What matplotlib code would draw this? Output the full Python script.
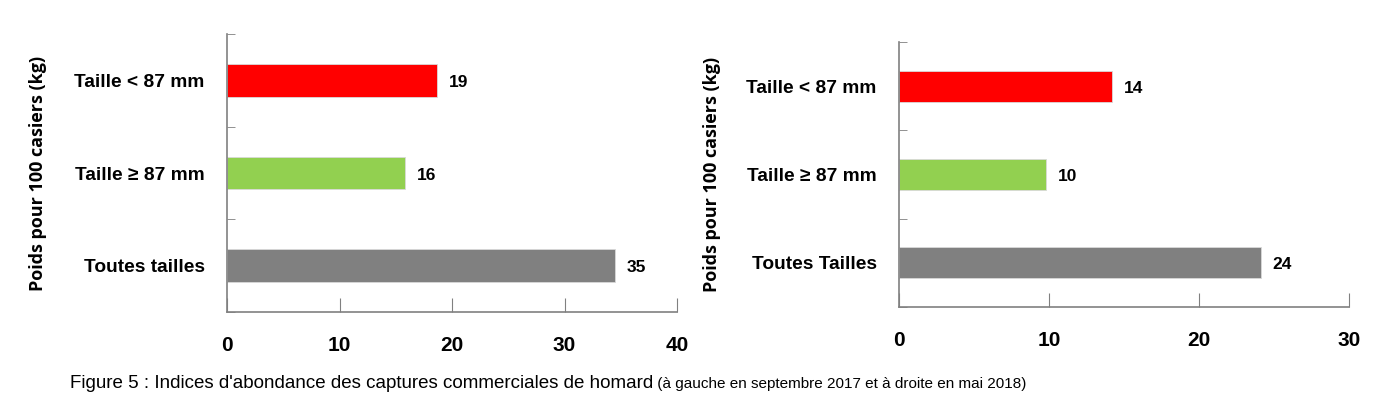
import matplotlib
matplotlib.use('Agg')

import matplotlib.pyplot as plt

categories_2017 = ["Taille < 87 mm", "Taille ≥ 87 mm", "Toutes tailles"]
values_2017 = [18.7, 15.8, 34.5]
labels_2017 = ["19", "16", "35"]

categories_2018 = ["Taille < 87 mm", "Taille ≥ 87 mm", "Toutes Tailles"]
values_2018 = [14.2, 9.8, 24.1]
labels_2018 = ["14", "10", "24"]

colors = ["#FF0000", "#92D050", "#808080"]
ylabel = "Poids pour 100 casiers (kg)"
narrow = ["Liberation Sans", "DejaVu Sans"]

W, H = 1379, 407
fig = plt.figure(figsize=(W / 100, H / 100), dpi=100)


def panel(rect, cats, vals, labs, xmax, xstep, ylab_x):
    l, t, r, b = rect
    ax = fig.add_axes([l / W, 1 - b / H, (r - l) / W, (b - t) / H])
    pos = list(range(len(cats)))
    ax.barh(pos, vals, height=0.35, color=colors, edgecolor="#d9d9d9", linewidth=0.6)
    ax.set_ylim(2.5, -0.5)
    ax.set_xlim(0, xmax)
    ax.set_yticks(pos)
    ax.set_yticklabels(cats, fontfamily=narrow, fontweight="bold", fontsize=13.8)
    ax.set_yticks([-0.5, 0.5, 1.5, 2.5], minor=True)
    ax.tick_params(axis="y", which="major", length=0, pad=16)
    ax.tick_params(axis="y", which="minor", direction="in", length=6, color="#808080")
    ax.set_xticks(range(0, xmax + 1, xstep))
    ax.tick_params(axis="x", direction="in", length=10, color="#808080", pad=17)
    for lab in ax.get_xticklabels():
        lab.set_fontfamily(narrow)
        lab.set_fontweight("bold")
        lab.set_fontsize(15)
    for s in ["top", "right"]:
        ax.spines[s].set_visible(False)
    for s in ["left", "bottom"]:
        ax.spines[s].set_color("#808080")
        ax.spines[s].set_linewidth(1.2)
    for p, v, txt in zip(pos, vals, labs):
        ax.annotate(txt, (v, p), xytext=(12, -2), textcoords="offset pixels",
                    va="center", ha="left", fontfamily=narrow, fontweight="bold", fontsize=12.5)
    fig.text(ylab_x / W, 1 - ((t + b) / 2) / H, ylabel, rotation=90, ha="center", va="center",
             fontfamily=["Open Sans", "DejaVu Sans"], fontweight="bold", fontsize=13)
    return ax


panel((227, 34, 677, 312), categories_2017, values_2017, labels_2017, 40, 10, 38)
panel((899, 42, 1349, 307), categories_2018, values_2018, labels_2018, 30, 10, 712)

t1 = fig.text(70 / W, 1 - 384 / H, "Figure 5 : Indices d'abondance des captures commerciales de homard",
              ha="left", va="center", fontfamily=narrow, fontsize=13.5)
fig.add_artist(plt.Annotation(" (à gauche en septembre 2017 et à droite en mai 2018)", xy=(1, 0.5),
                              xycoords=t1, va="center", ha="left", fontfamily=narrow, fontsize=11))

fig.savefig("out.png", dpi=100)
